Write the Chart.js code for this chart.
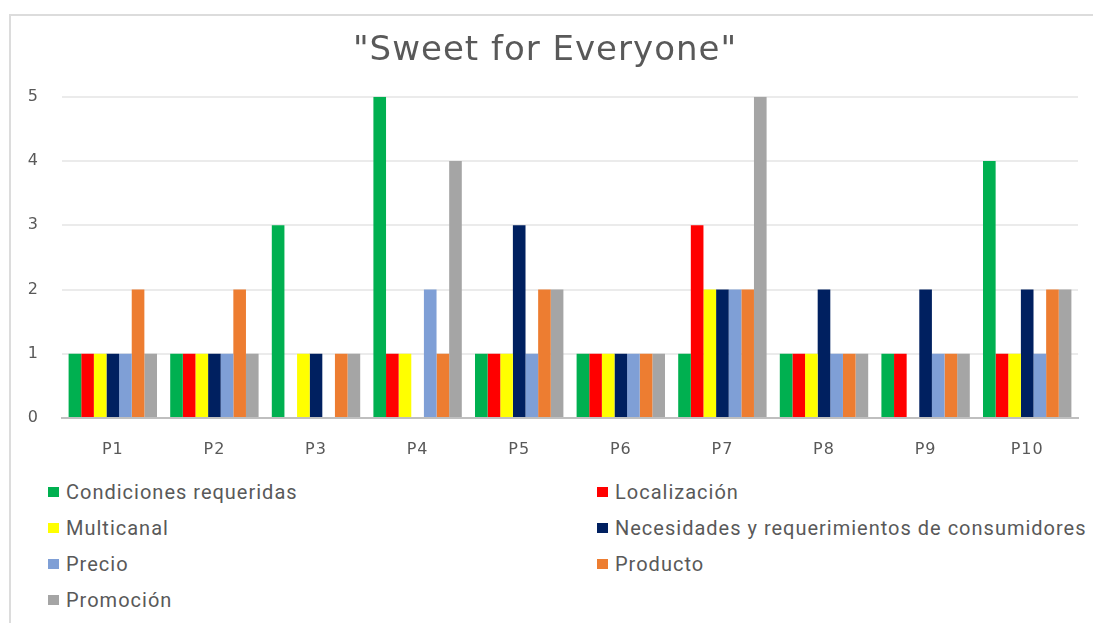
<!DOCTYPE html>
<html>
<head>
<meta charset="utf-8">
<script src="https://cdn.jsdelivr.net/npm/chart.js@4"></script>
<style>
  body { margin: 0; background: #fff; width: 1093px; height: 623px; overflow: hidden; position: relative; }
  #frame { position: absolute; left: 9px; top: 14px; width: 1200px; height: 700px; border: 2px solid #dcdcdc; box-sizing: border-box; }
  #chartBox { position: absolute; left: 0; top: 0; width: 1093px; height: 470px; }
  #legend { position: absolute; left: 48px; top: 474px; display: grid; grid-template-columns: 549px auto; }
  .item { height: 36px; display: flex; align-items: center; font-family: Roboto, sans-serif; font-size: 20px; color: #595959; letter-spacing: 1px; }
  .swatch { width: 11px; height: 10px; margin-right: 7px; flex: none; }
</style>
</head>
<body>
<div id="frame"></div>
<div id="chartBox"><canvas id="sweetChart" width="1093" height="470"></canvas></div>
<div id="legend"></div>
<script>
// "Sweet for Everyone" - puntuaciones por pregunta

const categories = ['P1', 'P2', 'P3', 'P4', 'P5', 'P6', 'P7', 'P8', 'P9', 'P10'];
const yTicks = [0, 1, 2, 3, 4, 5];

const condiciones = [1, 1, 3, 5, 1, 1, 1, 1, 1, 4];
const localizacion = [1, 1, 0, 1, 1, 1, 3, 1, 1, 1];
const multicanal = [1, 1, 1, 1, 1, 1, 2, 1, 0, 1];
const necesidades = [1, 1, 1, 0, 3, 1, 2, 2, 2, 2];
const precio = [1, 1, 0, 2, 1, 1, 2, 1, 1, 1];
const producto = [2, 2, 1, 1, 2, 1, 2, 1, 1, 2];
const promocion = [1, 1, 1, 4, 2, 1, 5, 1, 1, 2];

const seriesNames = [
    'Condiciones requeridas',
    'Localización',
    'Multicanal',
    'Necesidades y requerimientos de consumidores',
    'Precio',
    'Producto',
    'Promoción'
];
const seriesData = [condiciones, localizacion, multicanal, necesidades, precio, producto, promocion];
const seriesColors = ['#00b050', '#ff0000', '#ffff00', '#002060', '#7f9fd6', '#ed7d31', '#a5a5a5'];

const TEXT_COLOR = '#595959';

// canvas text in the original is rather wide, add a little letter spacing
const spacingPlugin = {
    id: 'spacing',
    beforeLayout(chart) { chart.ctx.letterSpacing = '1px'; },
    beforeDraw(chart) { chart.ctx.letterSpacing = '1px'; }
};

const ctx = document.getElementById('sweetChart').getContext('2d');

const sweetChart = new Chart(ctx, {
    type: 'bar',
    data: {
        labels: categories,
        datasets: seriesNames.map((name, i) => ({
            label: name,
            data: seriesData[i],
            backgroundColor: seriesColors[i],
            borderWidth: 0,
            categoryPercentage: 0.87,
            barPercentage: 1.0
        }))
    },
    options: {
        responsive: false,
        animation: false,
        devicePixelRatio: 1,
        layout: {
            padding: { left: 12, right: 15, top: 16, bottom: 0 }
        },
        scales: {
            x: {
                grid: { display: false },
                border: { color: '#bfbfbf', width: 2 },
                ticks: {
                    color: TEXT_COLOR,
                    font: { family: 'DejaVu Sans', size: 16 },
                    padding: 14
                },
                afterFit: (axis) => { axis.height = 52; }
            },
            y: {
                min: 0,
                max: 5,
                afterBuildTicks: (axis) => { axis.ticks = yTicks.map(v => ({ value: v })); },
                grid: {
                    color: (c) => c.tick.value === 0 ? 'rgba(0,0,0,0)' : '#ebebeb',
                    lineWidth: 2,
                    drawTicks: false
                },
                border: { display: false },
                ticks: {
                    color: TEXT_COLOR,
                    font: { family: 'DejaVu Sans', size: 16 },
                    padding: 23
                },
                afterFit: (axis) => { axis.width = 50; }
            }
        },
        plugins: {
            legend: { display: false },
            tooltip: { enabled: false },
            title: {
                display: true,
                text: '"Sweet for Everyone"',
                color: TEXT_COLOR,
                font: { family: 'DejaVu Sans', size: 34, weight: 'normal' },
                padding: { top: 15, bottom: 25 }
            }
        }
    },
    plugins: [spacingPlugin]
});

// Two-column legend like the original
const legendEl = document.getElementById('legend');
sweetChart.data.datasets.forEach(ds => {
    const item = document.createElement('div');
    item.className = 'item';
    const sw = document.createElement('span');
    sw.className = 'swatch';
    sw.style.background = ds.backgroundColor;
    item.appendChild(sw);
    item.appendChild(document.createTextNode(ds.label));
    legendEl.appendChild(item);
});
</script>
</body>
</html>
